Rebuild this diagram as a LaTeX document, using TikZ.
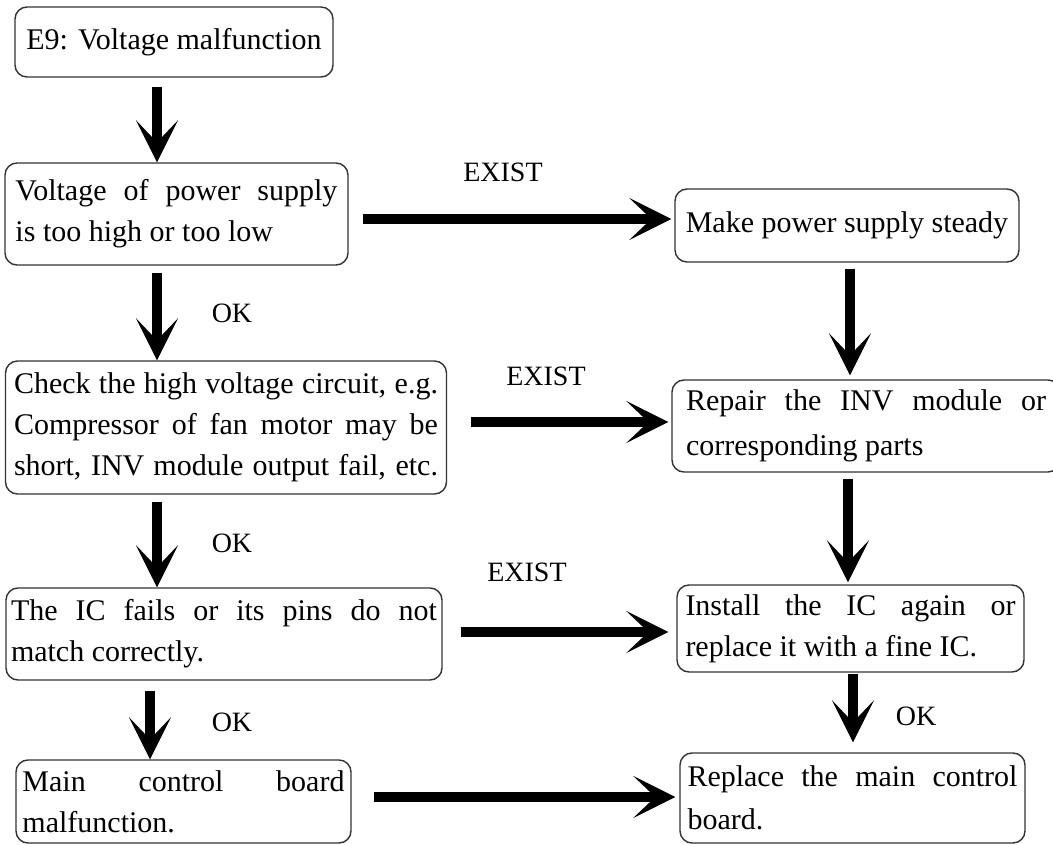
\documentclass[tikz,border=0pt]{standalone}
\usepackage{fontspec}
\setmainfont{Liberation Serif}
\usetikzlibrary{calc,arrows.meta}
\newcommand{\jl}[1]{{\spaceskip=0.25em plus 1fil\relax\makebox[\hsize][s]{#1}}}
\newcommand{\lastl}[1]{{\spaceskip=0.25em\relax #1}}
\begin{document}
\begin{tikzpicture}[x=1pt,y=-1pt,
  box/.style={draw=black!80,line width=1.4pt,rounded corners=12pt,inner sep=0pt,
    font=\fontsize{30}{41}\selectfont,align=left},
  arr/.style={line width=10pt,-{Stealth[length=42pt,width=42pt,inset=22pt]}},
  lab/.style={font=\fontsize{28}{30}\selectfont,inner sep=0pt}]
\useasboundingbox (0,0) rectangle (1053,845);
% boxes
\node[box,minimum width=318pt,minimum height=70pt] (b1) at (174,42) {\lastl{E9: Voltage malfunction}};
\node[box,minimum width=343pt,minimum height=102pt,text width=322pt] (b2) at (176.5,214)
  {\jl{Voltage of power supply}\\\lastl{is too high or too low}};
\node[box,minimum width=344pt,minimum height=73pt] (b3) at (847,225.5) {\lastl{Make power supply steady}};
\node[box,minimum width=441pt,minimum height=133pt,text width=424pt] (b4) at (226,427.5)
  {\jl{Check the high voltage circuit, e.g.}\\\jl{Compressor of fan motor may be}\\\jl{short, INV module output fail, etc.}};
\node[box,minimum width=388pt,minimum height=92pt,text width=360pt,font=\fontsize{30}{45}\selectfont] (b5) at (866,426)
  {\jl{Repair the INV module or}\\\lastl{corresponding parts}};
\node[box,minimum width=436pt,minimum height=92pt,text width=426pt] (b6) at (224,634)
  {\jl{The IC fails or its pins do not}\\\lastl{match correctly.}};
\node[box,minimum width=347pt,minimum height=87pt,text width=330pt] (b7) at (850.5,628.5)
  {\jl{Install the IC again or}\\\lastl{replace it with a fine IC.}};
\node[box,minimum width=335pt,minimum height=83pt,text width=322pt] (b8) at (183.5,801.5)
  {\jl{Main control board}\\\lastl{malfunction.}};
\node[box,minimum width=345pt,minimum height=90pt,text width=330pt,font=\fontsize{30}{43}\selectfont] (b9) at (852.5,798)
  {\jl{Replace the main control}\\\lastl{board.}};
% guide coordinates
\coordinate (cL) at (157,0);
\coordinate (cL2) at (150,0);
\coordinate (cR) at (850,0);
\coordinate (cR2) at (848,0);
\coordinate (cR3) at (853,0);
% vertical arrows
\draw[arr] ($(b1.south -| cL)+(0,9)$) -- (b2.north -| cL);
\draw[arr] ($(b2.south -| cL)+(0,7)$) -- (b4.north -| cL);
\draw[arr] ($(b4.south -| cL)+(0,7)$) -- (b6.north -| cL);
\draw[arr] ($(b6.south -| cL2)+(0,10)$) -- (b8.north -| cL2);
\draw[arr,shorten >=4pt] ($(b3.south -| cR)+(0,6)$) -- (b5.north -| cR);
\draw[arr,shorten >=2pt] ($(b5.south -| cR2)+(0,6)$) -- (b7.north -| cR2);
\draw[arr,shorten >=10pt] ($(b7.south -| cR3)+(0,1)$) -- (b9.north -| cR3);
% horizontal arrows
\coordinate (h1) at ($(b2.east)+(14,5)$);
\draw[arr,shorten >=3pt] (h1) -- (b3.west |- h1);
\coordinate (h2) at ($(b4.east)+(24,-5.5)$);
\draw[arr,shorten >=3pt] (h2) -- (b5.west |- h2);
\coordinate (h3) at ($(b6.east)+(18,-2)$);
\draw[arr,shorten >=8pt] (h3) -- (b7.west |- h3);
\coordinate (h4) at ($(b8.east)+(22,-4.5)$);
\draw[arr,shorten >=4pt] (h4) -- (b9.west |- h4);
% labels
\node[lab] (e1) at (503,172) {EXIST};
\node[lab] (e2) at (546,376) {EXIST};
\node[lab] (e3) at (527,572) {EXIST};
\node[lab] (o1) at (232,313) {OK};
\node[lab] (o2) at (232,543) {OK};
\node[lab] (o3) at (232,722) {OK};
\node[lab] (o4) at (916,716) {OK};
\end{tikzpicture}
\end{document}
